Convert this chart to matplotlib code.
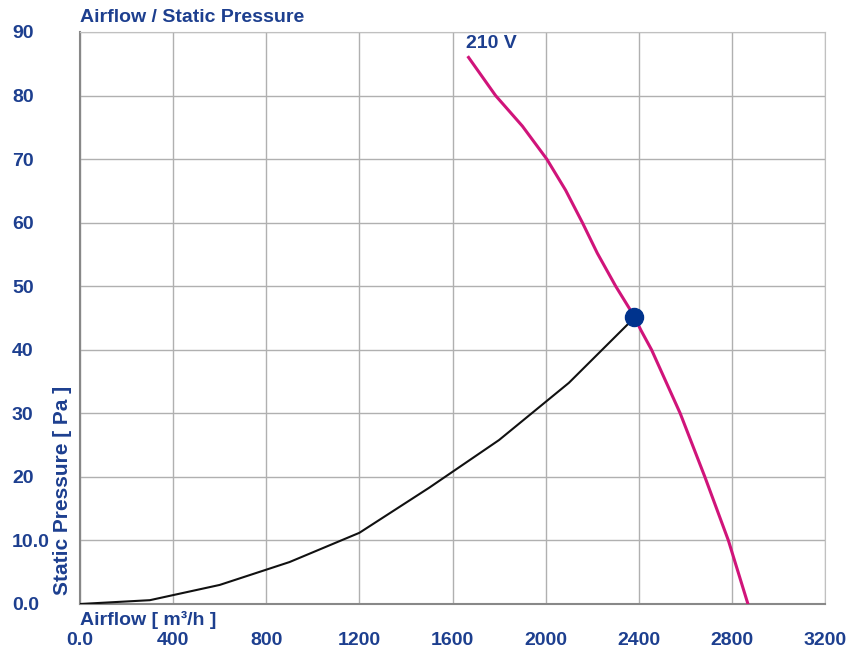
import numpy as np
import matplotlib.pyplot as plt

plt.rcParams['font.family'] = ['Liberation Sans', 'DejaVu Sans']

# system curve (black)
system_flow = [0, 300, 600, 900, 1200, 1500, 1800, 2100, 2380]
system_pressure = [0, 0.6, 3.0, 6.6, 11.2, 18.3, 25.8, 34.8, 45.0]

# fan curve at 210 V (magenta)
fan_flow = [1669, 1785, 1900, 2005, 2086, 2158, 2222, 2301, 2380, 2409, 2455, 2578, 2684, 2785, 2869]
fan_pressure = [86, 80, 75.2, 70, 65.1, 60, 55.2, 50, 45.3, 43.1, 40, 30, 20, 10, 0]

# operating point
op_flow = 2380
op_pressure = 45.2

x_ticks = [0, 400, 800, 1200, 1600, 2000, 2400, 2800, 3200]
x_labels = ['0.0', '400', '800', '1200', '1600', '2000', '2400', '2800', '3200']
y_ticks = [0, 10, 20, 30, 40, 50, 60, 70, 80, 90]
y_labels = ['0.0', '10.0', '20', '30', '40', '50', '60', '70', '80', '90']

blue = '#1d3f8f'
fig = plt.figure(figsize=(8.5, 6.6), dpi=100)
ax = fig.add_axes([80/850, 1-604/660, 745/850, 572/660])

ax.plot(system_flow, system_pressure, color='#111111', lw=1.5, zorder=3)
ax.plot(fan_flow, fan_pressure, color='#d0147a', lw=2.2, zorder=3)
ax.plot(op_flow, op_pressure, 'o', color='#00338d', ms=13, zorder=4)
ax.text(fan_flow[0] - 10, fan_pressure[0] + 0.8, '210 V', color=blue,
        fontsize=14, fontweight='bold', ha='left', va='bottom')

ax.set_xlim(0, 3200)
ax.set_ylim(0, 90)
ax.set_xticks(x_ticks)
ax.set_xticklabels(x_labels)
ax.set_yticks(y_ticks)
ax.set_yticklabels(y_labels)
ax.grid(True, color='#b0b0b0', lw=1)
ax.set_axisbelow(True)

for s in ['top', 'right']:
    ax.spines[s].set_color('#c0c0c0')
for s in ['left', 'bottom']:
    ax.spines[s].set_color('#888888')
    ax.spines[s].set_linewidth(1.5)

ax.tick_params(axis='both', length=0, labelsize=14, labelcolor=blue)
ax.tick_params(axis='x', pad=20)
ax.tick_params(axis='y', pad=49)
for lab in ax.get_yticklabels():
    lab.set_horizontalalignment('left')
    lab.set_fontweight('bold')
for lab in ax.get_xticklabels():
    lab.set_fontweight('bold')

fig.text(80/850, 1-18/660, 'Airflow / Static Pressure', color=blue,
         fontsize=14, fontweight='bold', ha='left', va='center')
fig.text(80/850, 1-620/660, 'Airflow [ m³/h ]', color=blue,
         fontsize=14, fontweight='bold', ha='left', va='center')
fig.text(62/850, 1-595/660, 'Static Pressure [ Pa ]', color=blue,
         fontsize=15, fontweight='bold', rotation=90, ha='center', va='bottom')

fig.savefig('out.png', dpi=100)
